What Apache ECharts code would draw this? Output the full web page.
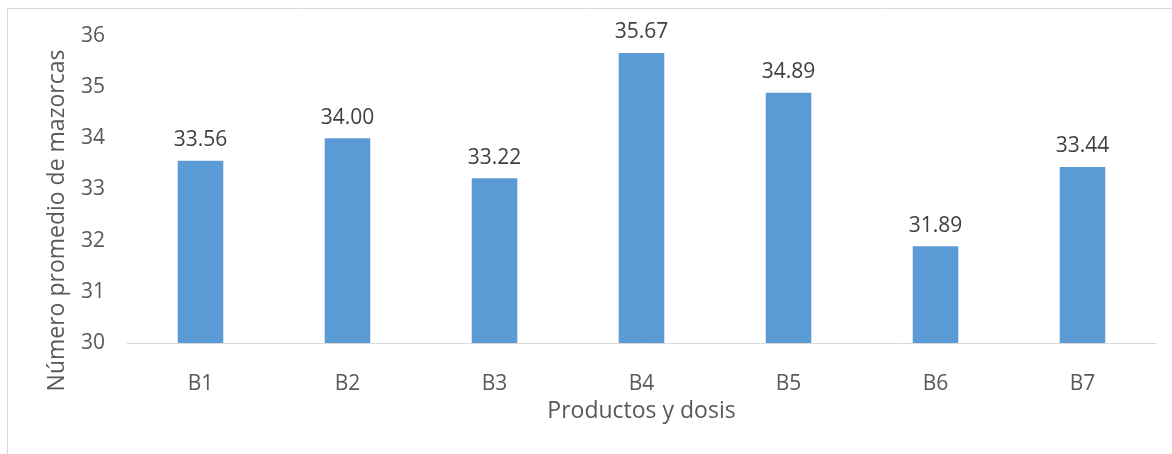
<!DOCTYPE html>
<html><head><meta charset="utf-8">
<script src="https://cdn.jsdelivr.net/npm/echarts@6/dist/echarts.min.js"></script>
<style>html,body{margin:0;padding:0;background:#fff}#c{width:1172px;height:454px}</style>
</head><body><div id="c"></div>
<script>
const categories = ['B1','B2','B3','B4','B5','B6','B7'];
const values = [33.56, 34.00, 33.22, 35.67, 34.89, 31.89, 33.44];
const yTicks = [30,31,32,33,34,35,36];
const xTitle = 'Productos y dosis';
const yTitle = 'Número promedio de mazorcas';

const chart = echarts.init(document.getElementById('c'), null, {renderer:'canvas'});
const font = '"Open Sans", "Liberation Sans", sans-serif';
chart.setOption({
  animation:false,
  backgroundColor:'#fff',
  graphic:[{type:'rect', shape:{x:7.5,y:8.5,width:1180,height:460}, style:{fill:'none', stroke:'#d9d9d9', lineWidth:1}, silent:true}],
  grid:{left:127, right:16, top:36, bottom:111},
  xAxis:{
    type:'category', data:categories,
    name:xTitle, nameLocation:'middle', nameGap:57,
    nameTextStyle:{fontFamily:font, fontSize:23, color:'#595959'},
    axisLine:{lineStyle:{color:'#d9d9d9', width:1}},
    axisTick:{show:false},
    axisLabel:{fontFamily:font, fontSize:21, color:'#595959', margin:31}
  },
  yAxis:{
    type:'value', min:yTicks[0], max:yTicks[yTicks.length-1], interval:1,
    name:yTitle, nameLocation:'middle', nameGap:58, nameRotate:90,
    nameTextStyle:{fontFamily:font, fontSize:23, color:'#595959', padding:[0,62,0,0]},
    axisLine:{show:false}, axisTick:{show:false},
    splitLine:{show:false},
    axisLabel:{fontFamily:font, fontSize:21, color:'#595959', margin:22}
  },
  series:[{
    type:'bar', data:values, barWidth:'31%',
    itemStyle:{color:'#5b9bd5'},
    label:{show:true, position:'top', distance:10, fontFamily:font, fontSize:21, color:'#404040',
      formatter:p=>p.value.toFixed(2)}
  }]
});
</script></body></html>
